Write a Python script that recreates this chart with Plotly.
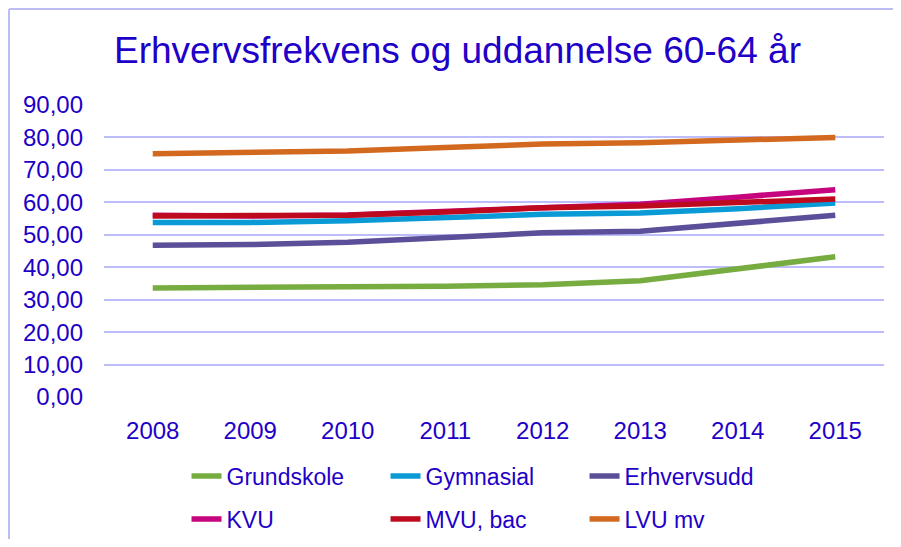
import plotly.graph_objects as go

# years on the x axis
years = ["2008", "2009", "2010", "2011", "2012", "2013", "2014", "2015"]

# employment rate (%) by education, age 60-64
grundskole = [33.6, 33.6, 34.0, 34.1, 34.6, 35.8, 39.4, 43.2]
gymnasial = [53.8, 53.8, 54.3, 55.3, 56.3, 56.7, 58.0, 59.8]
erhvervsudd = [46.8, 47.0, 47.7, 49.2, 50.6, 51.1, 53.4, 56.0]
kvu = [56.0, 55.8, 56.1, 57.2, 58.5, 59.4, 61.6, 63.9]
mvu_bac = [55.8, 55.7, 56.0, 57.0, 58.3, 58.9, 59.8, 61.0]
lvu_mv = [75.0, 75.2, 75.8, 76.9, 78.0, 78.4, 79.0, 80.0]

y_ticks = [0, 10, 20, 30, 40, 50, 60, 70, 80, 90]
y_tick_labels = [f"{v:.2f}".replace(".", ",") for v in y_ticks]

# name, values, colour, legend row
series = [
    ("Grundskole", grundskole, "#77AC41", "legend"),
    ("Gymnasial", gymnasial, "#0A9AD5", "legend"),
    ("Erhvervsudd", erhvervsudd, "#5B4F99", "legend"),
    ("KVU", kvu, "#C5047D", "legend2"),
    ("MVU, bac", mvu_bac, "#BD0A1E", "legend2"),
    ("LVU mv", lvu_mv, "#D2691F", "legend2"),
]

text_color = "#1E00C8"
grid_color = "#BDBDFB"

fig = go.Figure()
for name, vals, color, leg in series:
    fig.add_trace(go.Scatter(
        x=years, y=vals, mode="lines", name=name,
        line=dict(color=color, width=5.5),
        legend=leg,
    ))

legend_common = dict(
    orientation="h", x=0.1058, xanchor="left", yanchor="middle",
    entrywidth=154, entrywidthmode="pixels",
    font=dict(size=23, color=text_color),
    bgcolor="rgba(0,0,0,0)",
)

# the page has an 8px body margin, so the figure is sized to fit inside it
fig.update_layout(
    width=885, height=531,
    paper_bgcolor="white", plot_bgcolor="white",
    margin=dict(l=96, r=9, t=97, b=142, autoexpand=False),
    font=dict(family="Liberation Sans, Arial, sans-serif", color=text_color, size=23),
    title=dict(
        text="Erhvervsfrekvens og uddannelse 60-64 år",
        x=0.5079, xanchor="center", xref="container",
        y=0.9209, yref="container", yanchor="middle",
        font=dict(size=37, color=text_color),
    ),
    showlegend=True,
    legend=dict(legend_common, y=-0.2705),
    legend2=dict(legend_common, y=-0.4178),
)

fig.update_xaxes(
    type="category", range=[-0.5, 7.5],
    showgrid=False, showline=False, zeroline=False,
    ticks="", ticklabelstandoff=17,
    tickfont=dict(size=24, color=text_color),
)
fig.update_yaxes(
    range=[0, 90], tickvals=y_ticks, ticktext=y_tick_labels,
    showgrid=True, gridcolor=grid_color, gridwidth=2,
    zeroline=False, showline=False, ticks="",
    ticklabelstandoff=20,
    tickfont=dict(size=24, color=text_color),
)

# chart outline: only left and top edges are visible in the picture
fig.add_shape(
    type="line", xref="paper", yref="paper",
    x0=-0.1218, x1=-0.1218, y0=-0.6, y1=1.3288,
    line=dict(color="#BDBDF5", width=2), layer="below",
)
fig.add_shape(
    type="line", xref="paper", yref="paper",
    x0=-0.1218, x1=1.1, y0=1.3288, y1=1.3288,
    line=dict(color="#BDBDF5", width=2), layer="below",
)

fig.write_html("out.html")
